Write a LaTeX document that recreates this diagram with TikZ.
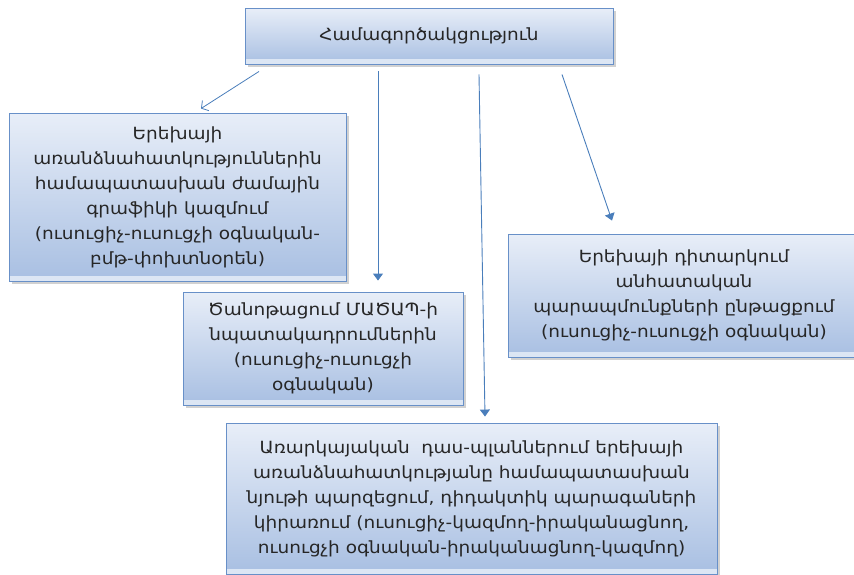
\documentclass[tikz,border=0pt]{standalone}
\usepackage{fontspec}
\usepackage{tikz}
\usetikzlibrary{arrows.meta, shadows}
\newfontfamily\armfont{DejaVu Sans}[FakeStretch=1.1]
\definecolor{boxtop}{RGB}{232,238,248}
\definecolor{boxbottom}{RGB}{168,191,226}
\definecolor{boxstrip}{RGB}{220,230,244}
\definecolor{boxedge}{RGB}{104,144,200}
\definecolor{flowcolor}{RGB}{74,126,187}

\tikzset{
    infobox/.style={draw=boxedge, line width=0.9pt, top color=boxtop, bottom color=boxbottom,
        align=center, inner sep=0pt, text=black!85,
        font=\armfont\fontsize{16.8}{25}\selectfont,
        drop shadow={shadow xshift=2.5pt, shadow yshift=-2.5pt, fill=black!40, opacity=0.45},
        path picture={\fill[boxstrip] (path picture bounding box.south west)
            rectangle ([yshift=5pt]path picture bounding box.south east);}},
    flow/.style={draw=flowcolor, line width=0.9pt, -{Triangle[length=7pt, width=10pt]}},
    openflow/.style={draw=flowcolor, line width=0.8pt, -{Straight Barb[length=5pt, width=12pt]}}
}

\begin{document}
\begin{tikzpicture}[x=1pt, y=-1pt]
    \useasboundingbox (0,0) rectangle (854,574);

    % Boxes
    \node[infobox, minimum width=368pt, minimum height=56pt] (coop) at (429,36)
        {Համագործակցություն};
    \node[infobox, minimum width=337pt, minimum height=168pt] (schedule) at (177.5,197)
        {Երեխայի\\առանձնահատկություններին\\համապատասխան ժամային\\գրաֆիկի կազմում\\(ուսուցիչ-ուսուցչի օգնական-\\բմթ-փոխտնօրեն)};
    \node[infobox, minimum width=352pt, minimum height=123pt] (observe) at (684,295.5)
        {Երեխայի դիտարկում\\անհատական\\պարապմունքների ընթացքում\\(ուսուցիչ-ուսուցչի օգնական)};
    \node[infobox, minimum width=280pt, minimum height=113pt] (mission) at (323,348.5)
        {Ծանոթացում ՄԱԾԱՊ-ի\\նպատակադրումներին\\(ուսուցիչ-ուսուցչի\\օգնական)};
    \node[infobox, minimum width=491pt, minimum height=151pt] (lessons) at (471.5,498.5)
        {Առարկայական\ \ դաս-պլաններում երեխայի\\առանձնահատկությանը համապատասխան\\նյութի պարզեցում, դիդակտիկ պարագաների\\կիրառում (ուսուցիչ-կազմող-իրականացնող,\\ուսուցչի օգնական-իրականացնող-կազմող)};

    % Arrows
    \draw[openflow] ([xshift=-170pt, yshift=-7pt]coop.south) -- ([xshift=23.5pt, yshift=4pt]schedule.north);
    \draw[flow] ([xshift=-51pt, yshift=-7pt]coop.south) -- ([xshift=55pt, yshift=11pt]mission.north);
    \draw[flow] ([xshift=50pt, yshift=-10pt]coop.south) -- ([xshift=13.5pt, yshift=6pt]lessons.north);
    \draw[flow] ([xshift=133pt, yshift=-10pt]coop.south) -- ([xshift=-72pt, yshift=13pt]observe.north);
\end{tikzpicture}
\end{document}
